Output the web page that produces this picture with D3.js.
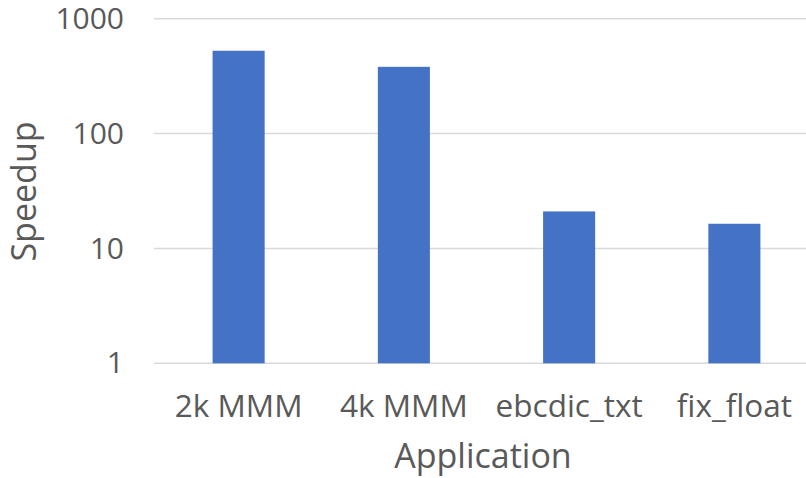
<!DOCTYPE html>
<html>
<head>
<meta charset="utf-8">
<script src="https://cdn.jsdelivr.net/npm/d3@7"></script>
<style>
	body { margin: 0; background: #fff; }
	svg text { font-family: "Open Sans", sans-serif; fill: #595959; }
</style>
</head>
<body>
<svg width="806" height="478"></svg>
<script>
const apps = ['2k MMM', '4k MMM', 'ebcdic_txt', 'fix_float']
const speedups = [526, 381, 21, 16.4]
const yTicks = [1, 10, 100, 1000]

const svg = d3.select('svg')

let xScale = d3.scaleBand()
	.domain(apps)
	.range([156, 817])
	.paddingInner(0.685)
	.paddingOuter(0.3425)

let yScale = d3.scaleLog()
	.domain([1, 1000])
	.range([363.3, 18.7])

// gridlines
svg.append('g')
	.selectAll('line')
	.data(yTicks)
	.enter()
	.append('line')
	.attr('x1', 154)
	.attr('x2', 806)
	.attr('y1', d => yScale(d))
	.attr('y2', d => yScale(d))
	.attr('stroke', '#d9d9d9')
	.attr('stroke-width', 1.5)

// bars
svg.append('g')
	.selectAll('rect')
	.data(apps)
	.enter()
	.append('rect')
	.attr('x', d => xScale(d))
	.attr('width', xScale.bandwidth())
	.attr('y', (d, i) => yScale(speedups[i]))
	.attr('height', (d, i) => yScale(1) - yScale(speedups[i]))
	.attr('fill', '#4472c4')

// y axis
let leftAxisG = svg.append('g')
	.attr('transform', 'translate(124, 0)')
	.call(d3.axisLeft(yScale).tickValues(yTicks).tickFormat(d3.format('d')).tickSize(0).tickPadding(0))
leftAxisG.select('.domain').remove()
leftAxisG.selectAll('text')
	.attr('font-size', 30)
	.attr('font-family', null)
	.attr('fill', null)

// x axis
let bottomAxisG = svg.append('g')
	.attr('transform', 'translate(0, 364)')
	.call(d3.axisBottom(xScale).tickSize(0).tickPadding(0))
bottomAxisG.select('.domain').remove()
bottomAxisG.selectAll('text')
	.attr('y', 53)
	.attr('dy', null)
	.attr('font-size', 31.5)
	.attr('font-family', null)
	.attr('fill', null)

// axis titles
svg.append('text')
	.attr('x', 483)
	.attr('y', 468)
	.attr('text-anchor', 'middle')
	.attr('font-size', 34)
	.text('Application')

svg.append('text')
	.attr('transform', 'translate(36, 191.5) rotate(-90)')
	.attr('text-anchor', 'middle')
	.attr('font-size', 34)
	.text('Speedup')
</script>
</body>
</html>
